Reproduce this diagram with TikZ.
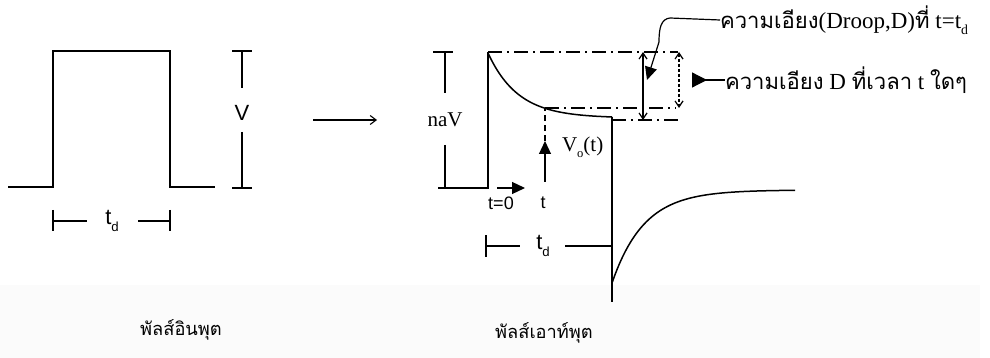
\documentclass[tikz,border=0pt]{standalone}
\usepackage{fontspec}
\setmainfont{Liberation Serif}
\setsansfont{Liberation Sans}
\newfontfamily\thai[Script=Thai,Scale=0.96]{Loma}
\usetikzlibrary{arrows.meta}
\newcommand\lowsub[1]{\raisebox{-0.6ex}{\scalebox{0.6}{#1}}}
\begin{document}
\begin{tikzpicture}[x=1pt,y=-1pt,
  wave/.style={line width=1.5pt},
  dimline/.style={line width=1.2pt},
  dashdot/.style={line width=1.4pt, dash pattern=on 14pt off 5pt on 2pt off 5pt},
  lbl/.style={inner sep=0pt, outer sep=0pt},
  sflbl/.style={lbl, font=\sffamily\fontsize{22}{22}\selectfont},
  rmlbl/.style={lbl, font=\fontsize{21}{21}\selectfont},
  thailbl/.style={lbl, anchor=west, font=\fontsize{23}{23}\selectfont},
  caplbl/.style={lbl, font=\thai\fontsize{19}{19}\selectfont},
  barb/.style={{Straight Barb[length=6pt,width=8pt]}-{Straight Barb[length=6pt,width=8pt]}},
  filltip/.style={-{Triangle[length=13pt,width=12pt]}}]
\useasboundingbox (0,0) rectangle (990,358);
\fill[black!1.5] (0,285) rectangle (980,358);

% ---------- input pulse ----------
\coordinate (i0) at (8,187);
\coordinate (i1) at (53,187);
\coordinate (i2) at (53,51);
\coordinate (i3) at (170,51);
\coordinate (i4) at (170,187);
\coordinate (i5) at (215,187);
\draw[wave] (i0) -- (i1) -- (i2) -- (i3) -- (i4) -- (i5);

% V dimension
\node[sflbl] (V) at (242,113) {V};
\coordinate (vt) at (242,51);
\coordinate (vt1) at (242,88);
\coordinate (vb) at (242,188);
\coordinate (vb1) at (242,132);
\draw[dimline] (232,51) -- (252,51);
\draw[dimline] (232,188) -- (252,188);
\draw[dimline] (vt) -- (vt1);
\draw[dimline] (vb1) -- (vb);

% input t_d
\node[sflbl] (tdin) at (112,221) {t\lowsub{d}};
\coordinate (tdl) at (53,221);
\coordinate (tdl1) at (87,221);
\coordinate (tdr) at (170,221);
\coordinate (tdr1) at (138,221);
\draw[dimline] (53,210) -- (53,231);
\draw[dimline] (170,210) -- (170,231);
\draw[dimline] (tdl) -- (tdl1);
\draw[dimline] (tdr1) -- (tdr);

% transform arrow
\coordinate (a0) at (313,120);
\coordinate (a1) at (377,120);
\draw[line width=1.1pt, -{Straight Barb[length=6pt,width=9pt]}] (a0) -- (a1);

% ---------- output pulse ----------
\coordinate (o0) at (438,188);
\coordinate (o1) at (488,188);
\coordinate (o2) at (488,52);
\coordinate (o3) at (678,52);
\draw[wave] (o0) -- (o1) -- (o2);
\draw[dashdot] (o2) -- (o3);
\draw[wave] plot[domain=0:124, samples=60] ({488+\x},{53+65*(1-exp(-\x/30))});
\coordinate (f0) at (612,117);
\coordinate (f1) at (612,302);
\draw[wave] (f0) -- (f1);
\draw[wave] plot[domain=0:183, samples=70] ({612+\x},{190+93*exp(-\x/32)});

% naV dimension
\node[rmlbl] (naV) at (445,120) {naV};
\coordinate (nt) at (445,52);
\coordinate (nt1) at (445,93);
\coordinate (nb) at (445,188);
\coordinate (nb1) at (445,145);
\draw[dimline] (433,52) -- (453,52);
\draw[dimline] (nt) -- (nt1);
\draw[dimline] (nb1) -- (nb);

% dash-dot reference lines
\coordinate (d1a) at (545,108);
\coordinate (d1b) at (676,108);
\coordinate (d2a) at (612,120);
\coordinate (d2b) at (682,120);
\draw[dashdot] (d1a) -- (d1b);
\draw[dashdot] (d2a) -- (d2b);

% Vo(t) arrow
\coordinate (vo0) at (545,182);
\coordinate (vo1) at (545,141);
\draw[line width=1.2pt, filltip] (vo0) -- (vo1);
\draw[line width=1.2pt, dash pattern=on 6pt off 4pt] (vo1) -- (d1a);
\node[rmlbl, anchor=west] (vo) at (562,147) {V\lowsub{o}(t)};

% t=0 arrow
\coordinate (t00) at (497,188);
\coordinate (t01) at (525,188);
\draw[line width=1.2pt, filltip] (t00) -- (t01);
\node[sflbl, font=\sffamily\fontsize{18}{18}\selectfont] (t0) at (501,203) {t=0};
\node[sflbl, font=\sffamily\fontsize{18}{18}\selectfont] (t) at (543,203) {t};

% output t_d
\node[sflbl] (tdout) at (543,246) {t\lowsub{d}};
\coordinate (ol) at (486,246);
\coordinate (ol1) at (520,246);
\coordinate (or1) at (565,246);
\coordinate (or) at (612,246);
\draw[dimline] (486,235) -- (486,257);
\draw[dimline] (ol) -- (ol1);
\draw[dimline] (or1) -- (or);

% droop arrows
\coordinate (dr1t) at (643,52);
\coordinate (dr1b) at (643,120);
\draw[line width=1.2pt, barb] (dr1t) -- (dr1b);
\coordinate (dr2t) at (679,52);
\coordinate (dr2b) at (679,108);
\draw[line width=1.2pt, barb, dash pattern=on 3pt off 2pt] (dr2t) -- (dr2b);

% callouts
\node[thailbl] (c1) at (720,20) {{\thai ความเอียง}(Droop,D){\thai ที่} t=t\lowsub{d}};
\coordinate (c1p) at (647,80);
\draw[line width=1.2pt, filltip] (c1.west) -- (670,18) .. controls (661,19) and (659,28) .. (659,42) -- (c1p);
\node[thailbl] (c2) at (725,80) {{\thai ความเอียง} D {\thai ที่เวลา} t {\thai ใดๆ}};
\coordinate (c2p) at (692,80);
\draw[line width=1.2pt, {Triangle[reversed,length=15pt,width=15pt]}-] (c2p) -- (c2.west);

% captions
\node[caplbl] (capin) at (181,330) {พัลส์อินพุต};
\node[caplbl] (capout) at (544,333) {พัลส์เอาท์พุต};
\end{tikzpicture}
\end{document}
